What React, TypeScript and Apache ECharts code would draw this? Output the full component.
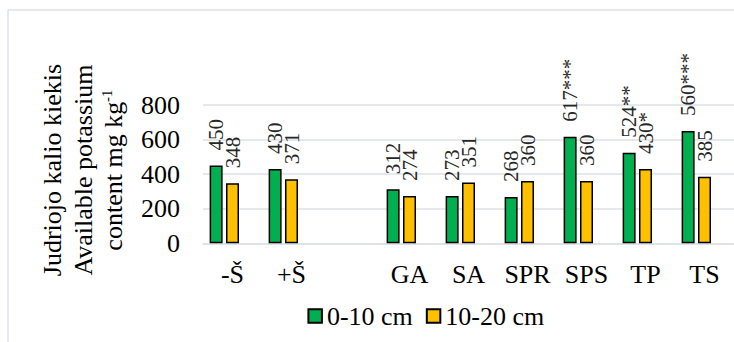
import React, { useEffect, useRef } from "react";
import * as echarts from "echarts";

const categories = ["-Š", "+Š", "", "GA", "SA", "SPR", "SPS", "TP", "TS"];
const seriesNames = ["0-10 cm", "10-20 cm"];
const values0to10 = [450, 430, null, 312, 273, 268, 617, 524, 650];
const values10to20 = [348, 371, null, 274, 351, 360, 360, 430, 385];
const spacer = [null, null, null, null, null, null, null, null, null];
const labels0to10 = ["450", "430", "", "312", "273", "268", "617***", "524**", "560***"];
const labels10to20 = ["348", "371", "", "274", "351", "360", "360", "430*", "385"];
const yTicks = [0, 200, 400, 600, 800];

const FONT = "Liberation Serif";
const GRID = "#dde1e6";

export default function App() {
  const ref = useRef<HTMLDivElement>(null);
  useEffect(() => {
    if (!ref.current) return;
    const chart = echarts.init(ref.current, undefined, { renderer: "svg" });
    const mkLabel = (texts: string[]) => ({
      show: true,
      position: "top",
      distance: 15,
      rotate: 90,
      align: "left",
      verticalAlign: "middle",
      fontFamily: FONT,
      fontSize: 21,
      color: "#262626",
      formatter: (p: any) => texts[p.dataIndex],
    });
    chart.setOption({
      animation: false,
      textStyle: { fontFamily: FONT },
      grid: { left: 203, top: 105, width: 541.8, height: 138.3, containLabel: false },
      legend: {
        data: seriesNames,
        left: 307.4,
        top: 303,
        padding: 0,
        itemWidth: 13.5,
        itemHeight: 13.5,
        itemGap: 13,
        icon: "rect",
        textStyle: { fontFamily: FONT, fontSize: 26, color: "#000" },
      },
      xAxis: {
        type: "category",
        data: categories,
        axisLine: { lineStyle: { color: GRID, width: 1.5 } },
        axisTick: { show: false },
        axisLabel: { fontFamily: FONT, fontSize: 26, color: "#000", margin: 18, interval: 0 },
      },
      yAxis: {
        type: "value",
        min: yTicks[0],
        max: yTicks[yTicks.length - 1],
        interval: 200,
        axisLine: { show: false },
        axisTick: { show: false },
        splitLine: { lineStyle: { color: GRID, width: 1.5 } },
        axisLabel: { fontFamily: FONT, fontSize: 26, color: "#000", margin: 23 },
      },
      series: [
        {
          name: seriesNames[0],
          type: "bar",
          data: values0to10,
          barWidth: 13,
          barGap: "26%",
          itemStyle: { color: "#00b050", borderColor: "#000", borderWidth: 1.5 },
          label: mkLabel(labels0to10),
        },
        {
          name: seriesNames[1],
          type: "bar",
          data: values10to20,
          barWidth: 13,
          barGap: "26%",
          itemStyle: { color: "#ffc000", borderColor: "#000", borderWidth: 1.5 },
          label: mkLabel(labels10to20),
        },
        {
          name: "spacer",
          type: "bar",
          data: spacer,
          barWidth: 13,
          barGap: "26%",
          silent: true,
          itemStyle: { color: "transparent", borderWidth: 0 },
        },
      ],
      graphic: [
        {
          type: "line",
          shape: { x1: 8, y1: 10, x2: 734, y2: 10 },
          style: { stroke: GRID, lineWidth: 1.5 },
          silent: true,
        },
        {
          type: "line",
          shape: { x1: 8, y1: 10, x2: 8, y2: 342 },
          style: { stroke: GRID, lineWidth: 1.5 },
          silent: true,
        },
        {
          type: "text",
          x: 83,
          y: 170,
          rotation: Math.PI / 2,
          style: {
            text: "{t|Judriojo kalio kiekis}\n{t|Available potassium}\n{t|content mg kg}{s|-1}",
            align: "center",
            verticalAlign: "middle",
            rich: {
              t: { fontFamily: FONT, fontSize: 26, lineHeight: 30.5, fill: "#000" },
              s: { fontFamily: FONT, fontSize: 15, lineHeight: 15, verticalAlign: "top", fill: "#000", padding: [1, 0, 0, 0] },
            },
          },
        },
      ],
    });
    return () => chart.dispose();
  }, []);
  return (
    <div
      ref={ref}
      style={{ position: "fixed", left: 0, top: 0, width: 734, height: 342, background: "#fff" }}
    />
  );
}
